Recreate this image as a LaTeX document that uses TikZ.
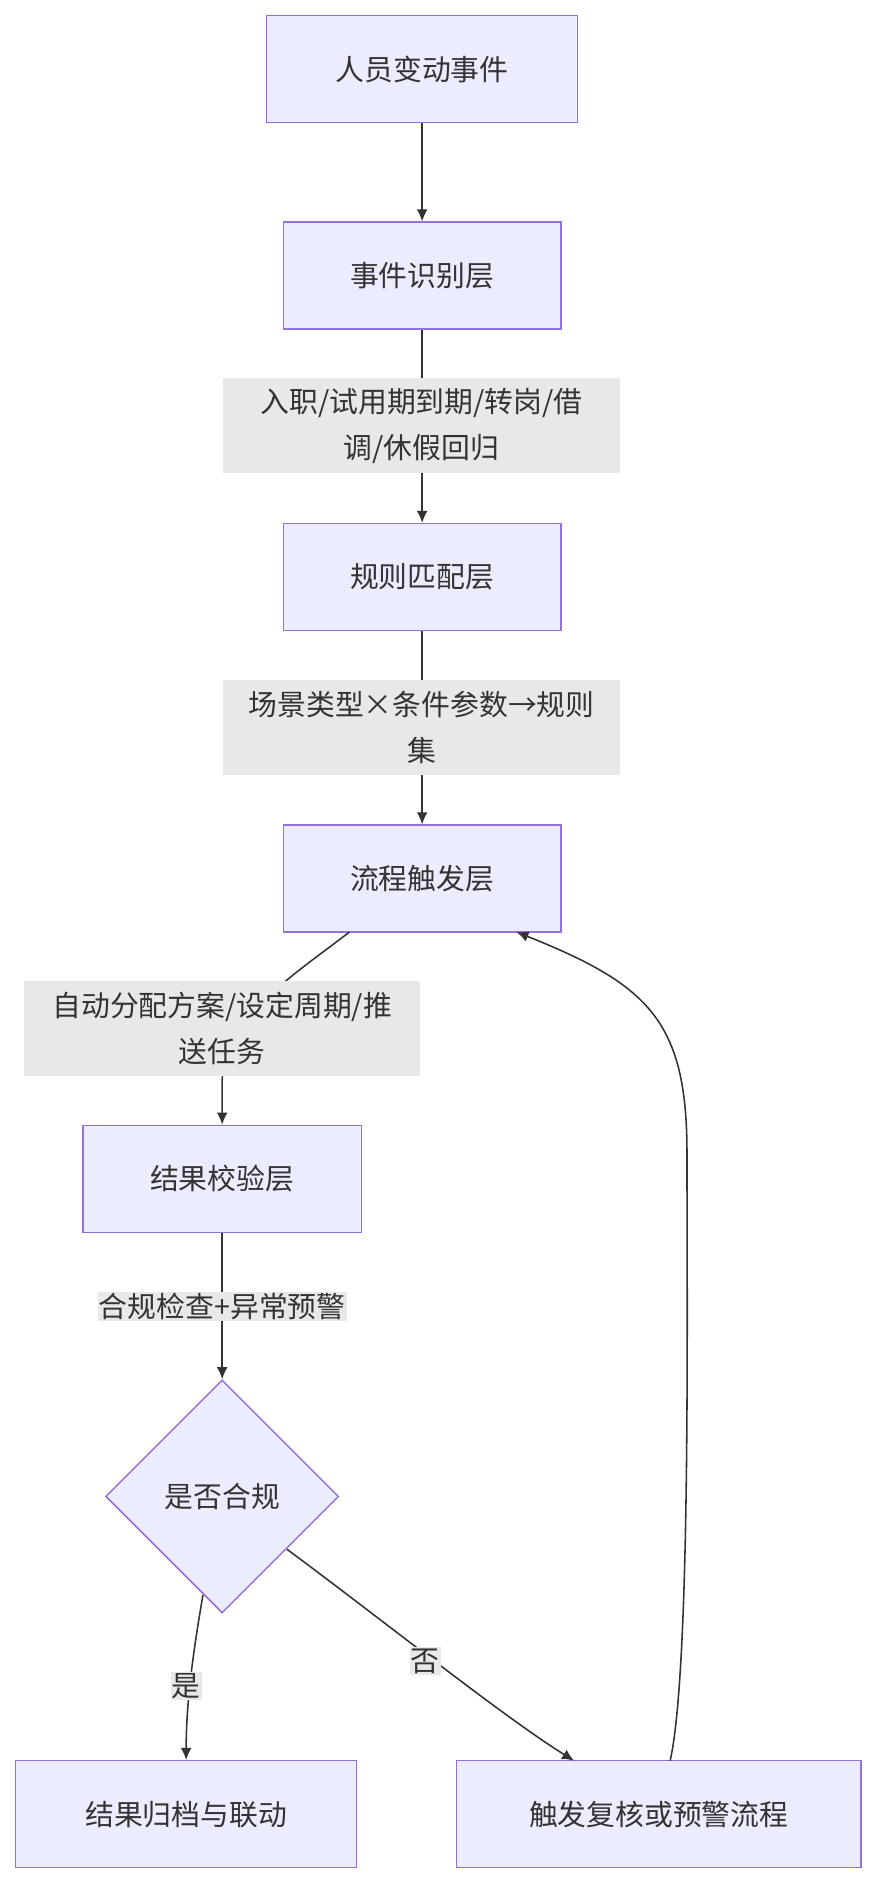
\documentclass[tikz,border=0pt]{standalone}
\usepackage{fontspec}
\setmainfont{Noto Sans CJK SC}
\usetikzlibrary{shapes.geometric,arrows.meta}
\definecolor{nfill}{HTML}{ECECFF}
\definecolor{nline}{HTML}{9370DB}
\definecolor{lbg}{HTML}{E8E8E8}
\definecolor{txt}{HTML}{333333}
\begin{document}
\begin{tikzpicture}[x=1pt,y=-1pt,
 box/.style={draw=nline,fill=nfill,line width=1.2pt,text=txt,font=\fontsize{24}{30}\selectfont,inner sep=0pt},
 dia/.style={diamond,draw=nline,fill=nfill,line width=1.2pt,text=txt,font=\fontsize{24}{30}\selectfont,minimum width=194pt,minimum height=194pt,inner sep=0pt},
 lab/.style={fill=lbg,text=txt,font=\fontsize{24}{38}\selectfont,align=center,inner sep=1pt},
 arr/.style={draw=txt,line width=1.3pt,-{Latex[length=10pt,width=9pt]}}]
\useasboundingbox (0,0) rectangle (736,1582);
\node[box,minimum width=259pt,minimum height=89pt] (A) at (351.5,57.5) {人员变动事件};
\node[box,minimum width=231pt,minimum height=89pt] (B) at (351.5,229.5) {事件识别层};
\node[box,minimum width=231pt,minimum height=89pt] (C) at (351.5,480.5) {规则匹配层};
\node[box,minimum width=231pt,minimum height=89pt] (D) at (351.5,731.5) {流程触发层};
\node[box,minimum width=232pt,minimum height=89pt] (E) at (185,981.5) {结果校验层};
\node[dia] (F) at (185,1246) {是否合规};
\node[box,minimum width=284pt,minimum height=89pt] (G) at (155,1510.5) {结果归档与联动};
\node[box,minimum width=337pt,minimum height=89pt] (H) at (548.5,1510.5) {触发复核或预警流程};
\draw[arr] (A) -- (B);
\draw[arr] (B) -- (C);
\draw[arr] (C) -- (D);
\draw[arr] (291,776) .. controls (240,815) and (185,850) .. (185,900) -- (E.north);
\draw[arr] (E) -- (F);
\draw[arr] (169,1328) .. controls (160,1380) and (155,1420) .. (G.north);
\draw[arr] (239,1290) .. controls (320,1350) and (420,1430) .. (478,1466);
\draw[arr] (558,1466) .. controls (575,1390) and (572,1100) .. (572,960) .. controls (572,850) and (540,820) .. (430,776);
\node[lab,minimum width=330pt,minimum height=79pt] (L1) at (351,354.5) {入职/试用期到期/转岗/借\\调/休假回归};
\node[lab,minimum width=330pt,minimum height=79pt] (L2) at (351,605.5) {场景类型×条件参数→规则\\集};
\node[lab,minimum width=330pt,minimum height=79pt] (L3) at (185,856.5) {自动分配方案/设定周期/推\\送任务};
\node[lab] (L4) at (185,1088) {合规检查+异常预警};
\node[lab] (L5) at (155,1404) {是};
\node[lab] (L6) at (354,1383) {否};
\end{tikzpicture}
\end{document}
